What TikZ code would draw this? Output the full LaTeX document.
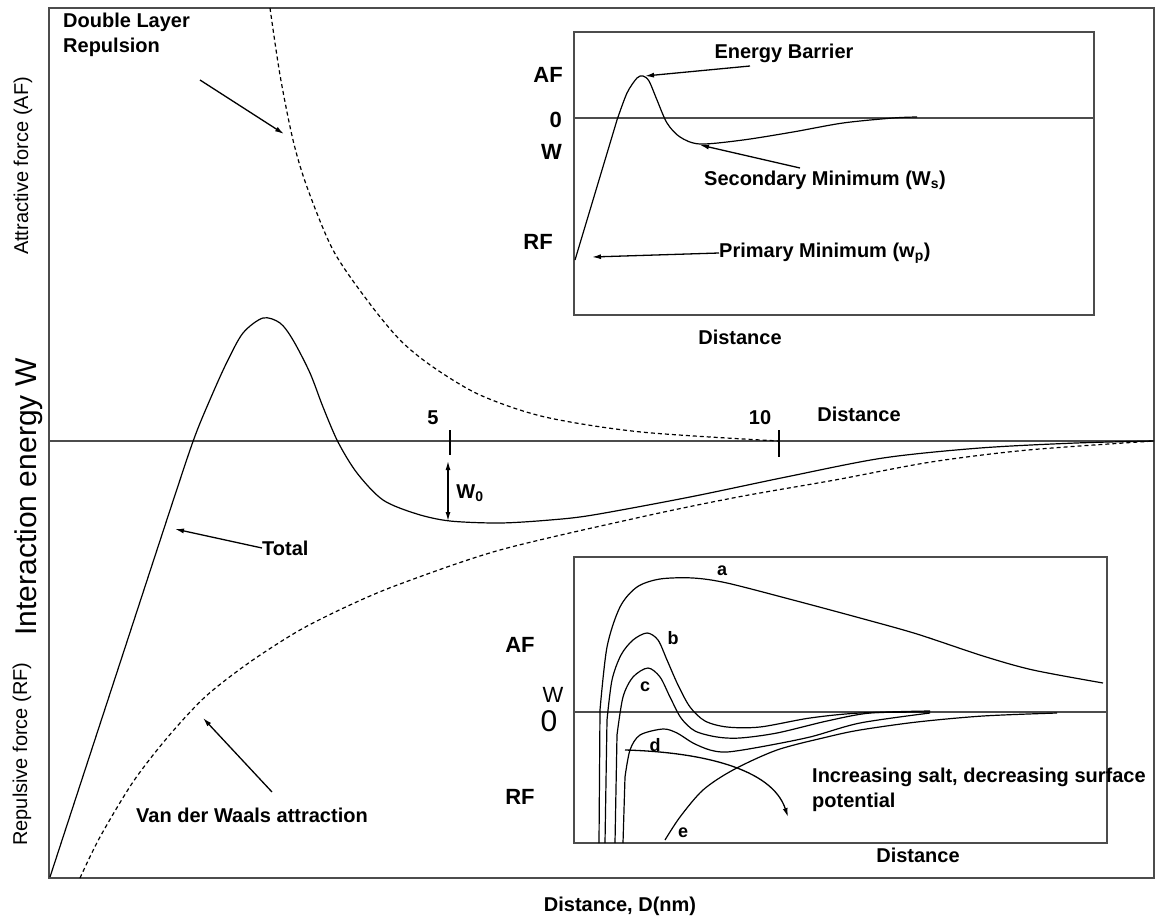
\documentclass[tikz,border=0pt]{standalone}
\usepackage{fontspec}
\setmainfont{Liberation Sans}
\usetikzlibrary{arrows.meta}
\tikzset{
	>={Latex[length=9pt,width=5pt]},
	lbl/.style={font=\bfseries\fontsize{20}{25}\selectfont, inner sep=0pt},
	letter/.style={font=\bfseries\fontsize{18}{20}\selectfont, inner sep=0pt},
	inlbl/.style={font=\bfseries\fontsize{22}{24}\selectfont, inner sep=0pt},
	axlbl/.style={font=\fontsize{20}{22}\selectfont, rotate=90, inner sep=0pt},
	crv/.style={line width=1.2pt},
	dsh/.style={line width=1.2pt, dash pattern=on 4pt off 3pt},
	ptr/.style={line width=1.3pt, ->},
	frm/.style={line width=1.5pt, black!70},
}

\begin{document}
\begin{tikzpicture}[x=1pt,y=-1pt]
		\useasboundingbox (0,0) rectangle (1157,918);
		
		%%%%% MAIN PLOT %%%%%
		
		\draw[frm] (49,8) rectangle (1154,878);
		\draw[frm] (49,441) -- (1154,441);
		\draw[crv] (450,430) -- (450,455);
		\draw[crv] (779,430) -- (779,457);
		
		\node[lbl] (five) at (433,418) {5};
		\node[lbl] (ten) at (760,418) {10};
		\node[lbl] (distmain) at (859,414) {Distance};
		
		% double layer repulsion
		\draw[dsh] plot[smooth] coordinates {(270,8) (280,75) (293,140) (307,187) (333,250) (367,300) (400,340) (433,367) (480,395) (545,417) (641,432) (779,441)};
		
		% total
		\draw[crv] plot[smooth] coordinates {(50,877) (120,663) (175,495) (195,436) (212,395) (227,362) (243,333) (263,318) (280,323) (293,340) (310,373) (323,407) (338,442) (357,473) (383,500) (417,514) (450,521) (500,523) (550,520) (593,515) (690,497) (786,477) (883,458) (980,448) (1076,443) (1154,441)};
		
		% van der waals
		\draw[dsh] plot[smooth] coordinates {(80,878) (100,837) (133,782) (167,738) (205,697) (250,662) (300,630) (350,605) (400,584) (500,550) (641,517) (738,497) (835,480) (931,462) (1028,450) (1154,441)};
		
		\node[lbl, anchor=north west, align=left] (dlr) at (63,13) {Double Layer\\Repulsion};
		\coordinate (dlrtail) at (200,80);
		\coordinate (dlrtip) at (284,134);
		\draw[ptr] (dlrtail) -- (dlrtip);
		
		\node[lbl, anchor=west] (total) at (262,548) {Total};
		\coordinate (totaltip) at (175,529);
		\draw[ptr] (total.west) -- (totaltip);
		
		\node[lbl] (vdw) at (252,815) {Van der Waals attraction};
		\coordinate (vdwtail) at (272,792);
		\coordinate (vdwtip) at (203,718);
		\draw[ptr] (vdwtail) -- (vdwtip);
		
		\coordinate (wtop) at (448,461);
		\coordinate (wbot) at (448,521);
		\draw[ptr, <->] (wtop) -- (wbot);
		\node[lbl] (wzero) at (470,493) {W\textsubscript{0}};
		
		\node[axlbl] (af) at (23,166) {Attractive force (AF)};
		\node[axlbl, font=\fontsize{30}{32}\selectfont] (iew) at (29,497) {Interaction energy W};
		\node[axlbl] (rf) at (22,754) {Repulsive force (RF)};
		\node[lbl] (distD) at (620,906) {Distance, D(nm)};
		
		%%%%% TOP INSET %%%%%
		
		\draw[frm] (574,32) rectangle (1094,315);
		\draw[frm] (574,118) -- (1094,118);
		\draw[crv] (575,260) -- plot[smooth] coordinates {(617,120) (627,93) (637,78) (643,76) (649,81) (657,100) (667,123) (680,137) (700,144) (743,140) (793,132) (843,123) (893,118) (917,117)};
		
		\node[inlbl, anchor=east] (afone) at (563,75) {AF};
		\node[inlbl, anchor=east] (zeroone) at (562,120) {0};
		\node[inlbl, anchor=east] (wone) at (562,152) {W};
		\node[inlbl, anchor=east] (rfone) at (553,242) {RF};
		
		\node[lbl] (barrier) at (784,53) {Energy Barrier};
		\coordinate (bartail) at (750,66);
		\coordinate (bartip) at (645,76);
		\draw[ptr] (bartail) -- (bartip);
		
		\node[lbl] (secmin) at (825,180) {Secondary Minimum (W\textsubscript{s})};
		\coordinate (sectail) at (800,168);
		\coordinate (sectip) at (700,145);
		\draw[ptr] (sectail) -- (sectip);
		
		\node[lbl, anchor=west] (primin) at (719,253) {Primary Minimum (w\textsubscript{p})};
		\coordinate (pritip) at (592,257);
		\draw[ptr] (primin.west) -- (pritip);
		
		\node[lbl] (distone) at (740,337) {Distance};
		
		%%%%% BOTTOM INSET %%%%%
		
		\draw[frm] (574,557) rectangle (1107,843);
		\draw[frm] (574,712) -- (1107,712);
		
		\draw[crv] (599,843) -- plot[smooth] coordinates {(600,710) (607,647) (620,607) (637,587) (660,579) (693,578) (727,583) (793,600) (860,618) (917,634) (983,656) (1033,670) (1103,683)};
		\draw[crv] (605,843) -- plot[smooth] coordinates {(607,720) (612,680) (621,655) (633,640) (647,633) (658,640) (667,660) (678,685) (690,707) (705,721) (727,727) (760,727) (810,718) (860,713) (930,712)};
		\draw[crv] (615,843) -- plot[smooth] coordinates {(617,735) (623,697) (633,677) (648,668) (660,677) (670,697) (681,718) (695,731) (717,737) (740,738) (777,733) (827,721) (870,713) (930,711)};
		\draw[crv] (623,843) -- plot[smooth] coordinates {(625,777) (630,750) (640,735) (663,729) (677,733) (693,743) (710,750) (727,752) (760,747) (810,737) (860,723) (930,713)};
		\draw[crv] plot[smooth] coordinates {(665,840) (680,817) (703,790) (733,770) (777,750) (827,737) (860,730) (917,722) (983,716) (1057,713)};
		
		\node[letter] (ca) at (722,571) {a};
		\node[letter] (cb) at (673,638) {b};
		\node[letter] (cc) at (645,687) {c};
		\node[letter] (cd) at (655,745) {d};
		\node[letter] (ce) at (683,833) {e};
		
		\node[inlbl] (aftwo) at (520,645) {AF};
		\node[inlbl, font=\fontsize{22}{24}\selectfont] (wtwo) at (553,695) {W};
		\node[inlbl, font=\fontsize{30}{32}\selectfont] (zerotwo) at (549,721) {0};
		\node[inlbl] (rftwo) at (520,797) {RF};
		
		\coordinate (salttail) at (625,750);
		\coordinate (salttip) at (788,817);
		\draw[ptr] (salttail) .. controls (700,752) and (772,768) .. (salttip);
		\node[lbl, anchor=west, align=left] (salt) at (812,790) {Increasing salt, decreasing surface\\potential};
		
		\node[lbl] (disttwo) at (918,855) {Distance};
		
	\end{tikzpicture}
\end{document}
